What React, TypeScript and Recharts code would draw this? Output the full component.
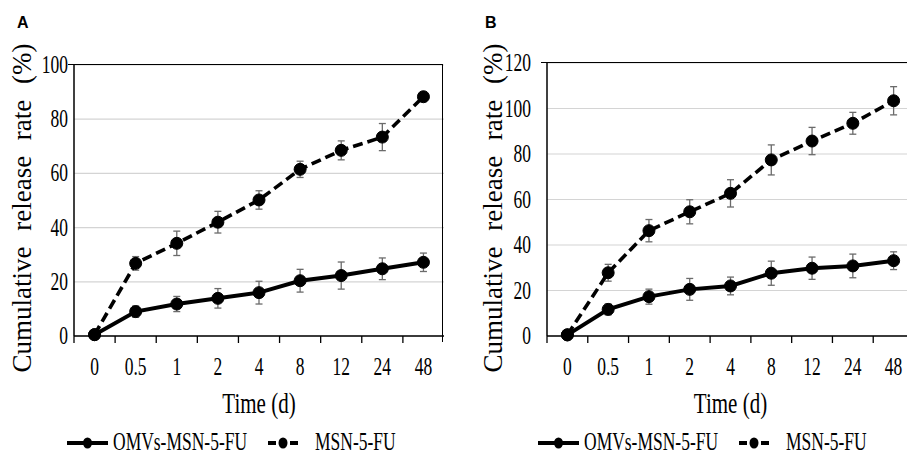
import {
  LineChart,
  Line,
  XAxis,
  YAxis,
  CartesianGrid,
  ErrorBar,
  Legend,
  Label,
} from 'recharts';

// ─── data ────────────────────────────────────────────────────────────────────

const timeLabels = ['0', '0.5', '1', '2', '4', '8', '12', '24', '48'];

const omvsA = [0.5, 9, 11.8, 13.9, 16, 20.4, 22.3, 24.8, 27.2];
const omvsAErr = [0, 2.1, 2.8, 3.6, 4.2, 4.2, 5, 4, 3.4];
const msnA = [0.5, 26.8, 34.2, 42, 50.2, 61.5, 68.5, 73.4, 88.3];
const msnAErr = [0, 2.5, 4.5, 4, 3.4, 3, 3.5, 5, 1.8];

const omvsB = [0.5, 11.7, 17.3, 20.5, 22, 27.6, 29.8, 30.8, 33.1];
const omvsBErr = [0, 2.4, 3.3, 4.8, 3.9, 5.3, 4.9, 5.2, 3.9];
const msnB = [0.5, 27.8, 46.3, 54.6, 62.7, 77.4, 85.7, 93.5, 103.4];
const msnBErr = [0, 3.7, 4.9, 5.3, 6, 6.6, 6, 4.8, 6.2];

const ticksA = [0, 20, 40, 60, 80, 100];
const ticksB = [0, 20, 40, 60, 80, 100, 120];

const SERIES_NAMES = ['OMVs-MSN-5-FU', 'MSN-5-FU'];

const buildRows = (omvs: number[], omvsErr: number[], msn: number[], msnErr: number[]) =>
  timeLabels.map((t, i) => ({ time: t, omvs: omvs[i], omvsErr: omvsErr[i], msn: msn[i], msnErr: msnErr[i] }));

const dataA = buildRows(omvsA, omvsAErr, msnA, msnAErr);
const dataB = buildRows(omvsB, omvsBErr, msnB, msnBErr);

// ─── styling ─────────────────────────────────────────────────────────────────

const SERIF = '"Liberation Serif", "Times New Roman", serif';
const SQUASH = 0.7;
const DASH = '10 5';

// category ticks sit between the categories (Excel style)
const makeXTick = (half: number) => (props: any) => {
  const { x, y, payload } = props;
  const base = y - 8; // axis line y
  return (
    <g>
      <line x1={x - half} x2={x - half} y1={base} y2={base + 7} stroke="#000" strokeWidth={1.3} />
      <text
        transform={`translate(${x},${base + 39}) scale(${SQUASH},1)`}
        textAnchor="middle"
        fontSize={25}
        fontFamily={SERIF}
        fill="#000"
      >
        {payload.value}
      </text>
    </g>
  );
};

const makeYTick = (shift: number) => (props: any) => {
  const { x, y, payload } = props;
  return (
    <text
      transform={`translate(${x + shift},${y + 8}) scale(${SQUASH},1)`}
      textAnchor="end"
      fontSize={25}
      fontFamily={SERIF}
      fill="#000"
    >
      {payload.value}
    </text>
  );
};

function LegendContent() {
  const items = [
    { name: SERIES_NAMES[0], x0: 7, x1: 48, tx: 53, dashed: false },
    { name: SERIES_NAMES[1], x0: 208, x1: 238, tx: 255, dashed: true },
  ];
  const cy = 14;
  return (
    <svg width={360} height={26} style={{ overflow: 'visible', display: 'block' }}>
      {items.map((it) => {
        const mid = (it.x0 + it.x1) / 2;
        return (
          <g key={it.name}>
            {it.dashed ? (
              <>
                <line x1={it.x0} x2={it.x0 + 8} y1={cy} y2={cy} stroke="#000" strokeWidth={4} />
                <line x1={it.x1 - 8} x2={it.x1} y1={cy} y2={cy} stroke="#000" strokeWidth={4} />
              </>
            ) : (
              <line x1={it.x0} x2={it.x1} y1={cy} y2={cy} stroke="#000" strokeWidth={4} />
            )}
            <ellipse cx={mid} cy={cy} rx={4.5} ry={5.5} fill="#000" />
            <text
              transform={`translate(${it.tx},${cy + 7}) scale(${SQUASH},1)`}
              fontSize={25}
              fontFamily={SERIF}
              fill="#000"
            >
              {it.name}
            </text>
          </g>
        );
      })}
    </svg>
  );
}

interface PanelProps {
  letter: string;
  data: ReturnType<typeof buildRows>;
  width: number;
  top: number;
  yWidth: number;
  yMax: number;
  ticks: number[];
  yTickShift: number;
  yLabelX: number;
  legendLeft: number;
  letterX: number;
}

function Panel({ letter, data, width, top, yWidth, yMax, ticks, yTickShift, yLabelX, legendLeft, letterX }: PanelProps) {
  const height = 455;
  const bottom = 79;
  const xHeight = 40;
  const plotW = width - 6 - yWidth;
  const plotH = height - top - bottom - xHeight;
  const half = plotW / timeLabels.length / 2;
  return (
    <div style={{ position: 'relative', width, height }}>
      <div
        style={{
          position: 'absolute',
          left: letterX,
          top: 14,
          fontFamily: '"Liberation Sans", Arial, sans-serif',
          fontWeight: 'bold',
          fontSize: 16,
        }}
      >
        {letter}
      </div>
      <LineChart width={width} height={height} data={data} margin={{ top, right: 6, left: 0, bottom }}>
        <CartesianGrid vertical={false} stroke="#d4d4d4" strokeWidth={1.2} />
        <XAxis
          dataKey="time"
          type="category"
          height={xHeight}
          padding={{ left: half, right: half }}
          axisLine={{ stroke: '#000', strokeWidth: 1.5 }}
          tickLine={false}
          tickSize={6}
          tickMargin={2}
          interval={0}
          tick={makeXTick(half)}
        >
          <Label
            content={({ viewBox }: any) => (
              <text
                transform={`translate(${viewBox.x + viewBox.width / 2},${viewBox.y + 77}) scale(${SQUASH},1)`}
                textAnchor="middle"
                fontSize={30}
                fontFamily={SERIF}
                fill="#000"
              >
                Time (d)
              </text>
            )}
          />
        </XAxis>
        <YAxis
          type="number"
          width={yWidth}
          domain={[0, yMax]}
          ticks={ticks}
          interval={0}
          axisLine={{ stroke: '#000', strokeWidth: 1.5 }}
          tickLine={false}
          tick={makeYTick(yTickShift)}
        >
          <Label
            content={({ viewBox }: any) => {
              const cx = viewBox.x + yLabelX;
              const cy = 208;
              return (
                <text
                  x={cx}
                  y={cy}
                  transform={`rotate(-90, ${cx}, ${cy})`}
                  textAnchor="middle"
                  dominantBaseline="central"
                  fontSize={27}
                  fontFamily={SERIF}
                  style={{ wordSpacing: 9 }}
                  fill="#000"
                >
                  Cumulative release rate (%)
                </text>
              );
            }}
          />
        </YAxis>
        <Legend
          layout="horizontal"
          verticalAlign="middle"
          align="center"
          wrapperStyle={{ top: 429, left: legendLeft, width: 360 }}
          content={() => <LegendContent />}
        />
        <Line
          name={SERIES_NAMES[0]}
          dataKey="omvs"
          stroke="#000"
          strokeWidth={4}
          dot={{ r: 6, fill: '#000', stroke: '#000', strokeWidth: 1 }}
          isAnimationActive={false}
        >
          <ErrorBar dataKey="omvsErr" width={3.5} stroke="#6b6b6b" strokeWidth={1.3} />
        </Line>
        <Line
          name={SERIES_NAMES[1]}
          dataKey="msn"
          stroke="#000"
          strokeWidth={3.6}
          strokeDasharray={DASH}
          dot={{ r: 6, fill: '#000', stroke: '#000', strokeWidth: 1, strokeDasharray: '0' }}
          isAnimationActive={false}
        >
          <ErrorBar dataKey="msnErr" width={3.5} stroke="#6b6b6b" strokeWidth={1.3} />
        </Line>
      </LineChart>
      {/* frame: top and right edges of the plot box */}
      <div
        style={{
          position: 'absolute',
          left: yWidth - 6,
          top: top - 1,
          width: plotW + 6 - 1,
          height: plotH + 7,
          borderTop: '1.5px solid #000',
          borderRight: '1.5px solid #000',
          boxSizing: 'border-box',
          pointerEvents: 'none',
        }}
      />
    </div>
  );
}

export default function App() {
  return (
    <div
      style={{
        position: 'absolute',
        left: 0,
        top: 0,
        width: 907,
        height: 455,
        overflow: 'hidden',
        background: '#fff',
      }}
    >
      <div style={{ position: 'absolute', left: 0, top: 0 }}>
        <Panel
          letter="A"
          data={dataA}
          width={450}
          top={65}
          yWidth={74}
          yMax={100}
          ticks={ticksA}
          yTickShift={2}
          yLabelX={22}
          legendLeft={60}
          letterX={17}
        />
      </div>
      <div style={{ position: 'absolute', left: 450, top: 0 }}>
        <Panel
          letter="B"
          data={dataB}
          width={470}
          top={63}
          yWidth={97}
          yMax={120}
          ticks={ticksB}
          yTickShift={-8}
          yLabelX={43}
          legendLeft={81}
          letterX={35}
        />
      </div>
    </div>
  );
}
